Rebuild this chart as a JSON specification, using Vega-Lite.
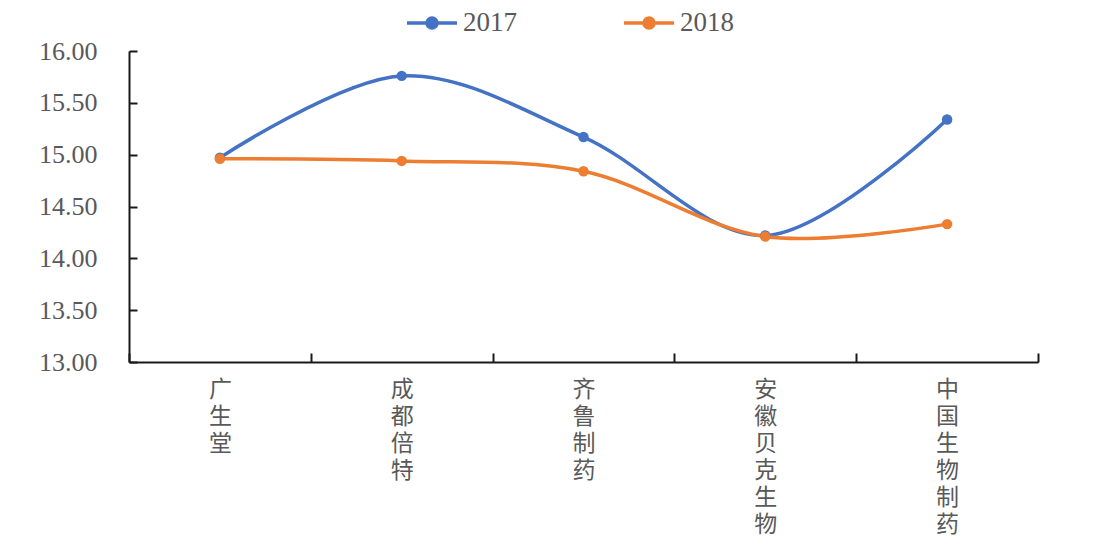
{
  "$schema": "https://vega.github.io/schema/vega-lite/v6.json",
  "autosize": "none",
  "width": 909,
  "height": 311,
  "padding": {"left": 129, "top": 51, "right": 61, "bottom": 194},
  "background": "white",
  "config": {"view": {"stroke": null}},
  "data": {
    "values": [
      {"company": "广生堂", "year": "2017", "value": 14.97},
      {"company": "成都倍特", "year": "2017", "value": 15.76},
      {"company": "齐鲁制药", "year": "2017", "value": 15.17},
      {"company": "安徽贝克生物", "year": "2017", "value": 14.22},
      {"company": "中国生物制药", "year": "2017", "value": 15.34},
      {"company": "广生堂", "year": "2018", "value": 14.96},
      {"company": "成都倍特", "year": "2018", "value": 14.94},
      {"company": "齐鲁制药", "year": "2018", "value": 14.84},
      {"company": "安徽贝克生物", "year": "2018", "value": 14.21},
      {"company": "中国生物制药", "year": "2018", "value": 14.33}
    ]
  },
  "encoding": {
    "x": {
      "field": "company", "type": "nominal", "sort": null,
      "scale": {"type": "band", "paddingInner": 0, "paddingOuter": 0},
      "axis": {
        "title": null, "labelAngle": 0, "tickBand": "extent",
        "tickSize": -9, "tickColor": "#1a1a1a", "tickWidth": 2,
        "domainColor": "#1a1a1a", "domainWidth": 2,
        "labelExpr": "split(datum.label, '')",
        "labelFont": "Noto Sans CJK SC", "labelFontSize": 23, "labelLineHeight": 27,
        "labelColor": "#595959", "labelPadding": 25, "labelBaseline": "top",
        "labelLimit": 0, "labelOverlap": false, "labelBound": false
      }
    },
    "y": {
      "field": "value", "type": "quantitative",
      "scale": {"domain": [13, 16], "nice": false, "zero": false},
      "axis": {
        "title": null, "grid": false,
        "values": [13, 13.5, 14, 14.5, 15, 15.5, 16], "format": ".2f",
        "tickSize": -8, "tickColor": "#1a1a1a", "tickWidth": 2,
        "domainColor": "#1a1a1a", "domainWidth": 2,
        "labelFont": "Liberation Serif", "labelFontSize": 26, "labelColor": "#595959",
        "labelPadding": 40
      }
    },
    "color": {
      "field": "year", "type": "nominal",
      "scale": {"domain": ["2017", "2018"], "range": ["#4472C4", "#ED7D31"]},
      "legend": {
        "title": null, "orient": "none", "direction": "horizontal",
        "legendX": 276, "legendY": -55,
        "symbolType": "M-1,0L1,0M-0.2,0A0.2,0.2,0,1,1,0.2,0A0.2,0.2,0,1,1,-0.2,0Z",
        "symbolSize": 2500, "symbolStrokeWidth": 3.5,
        "labelFont": "Liberation Serif", "labelFontSize": 27, "labelColor": "#595959",
        "labelOffset": 4, "columnPadding": 100
      }
    }
  },
  "layer": [
    {"mark": {"type": "line", "interpolate": "catmull-rom", "strokeWidth": 3.5}},
    {"mark": {"type": "point", "filled": true, "size": 110, "opacity": 1}}
  ]
}
